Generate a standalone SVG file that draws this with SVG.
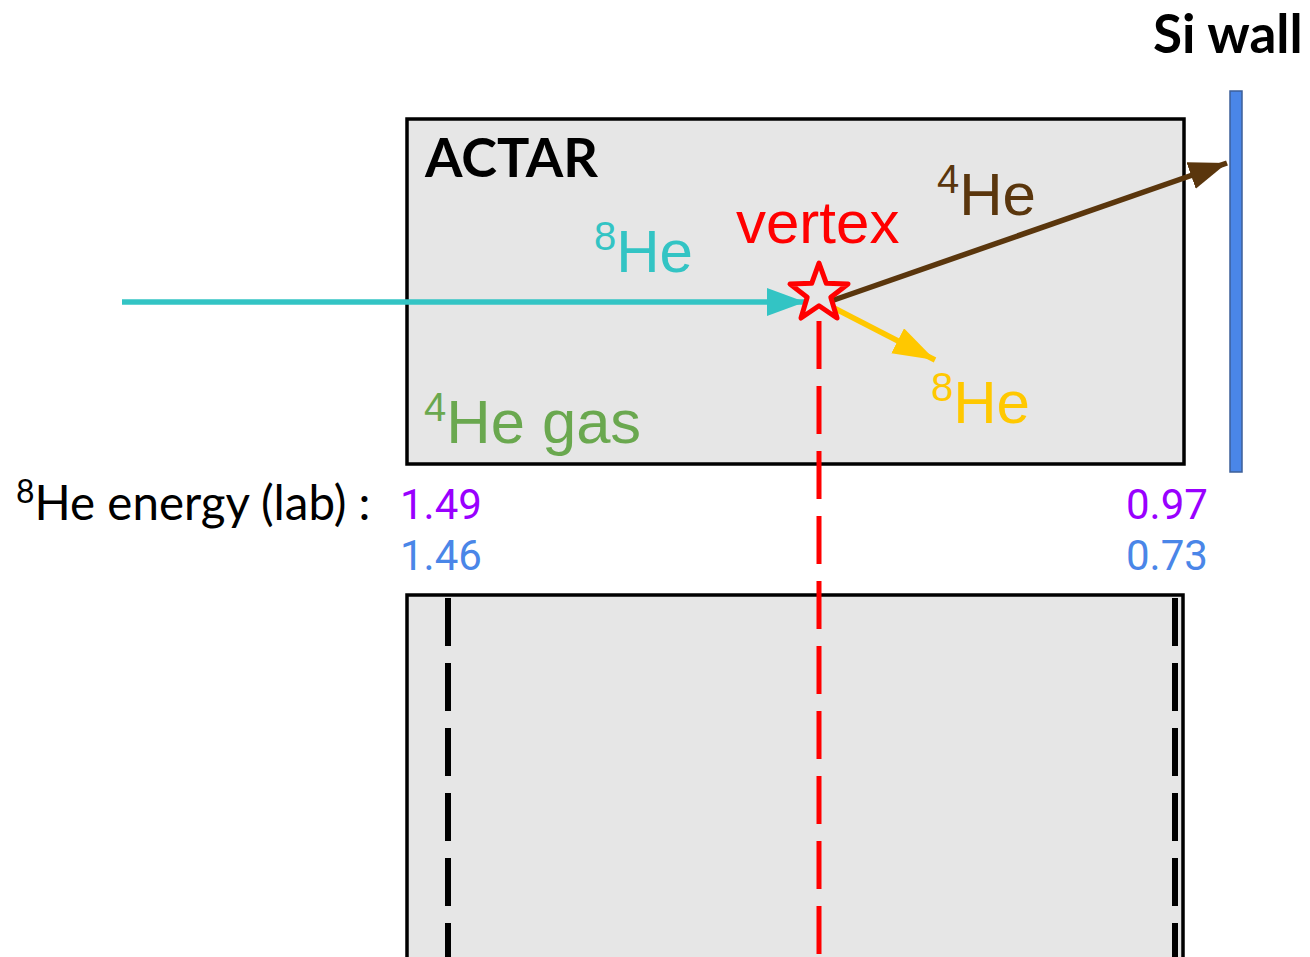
<svg xmlns="http://www.w3.org/2000/svg" width="1310" height="957" viewBox="0 0 1310 957">
<style>
.box{fill:#e6e6e6;stroke:#000;stroke-width:3.5}
.lbl{font-family:"Liberation Sans",Arial,sans-serif;font-size:60px}
.sup{font-size:40px}
.lato{font-family:Lato,"Liberation Sans",sans-serif}
.num{font-family:Roboto,"Liberation Sans",sans-serif;font-size:42px}
</style>
<defs>
<marker id="arrCyan" markerUnits="userSpaceOnUse" markerWidth="40" markerHeight="30" refX="38" refY="14" orient="auto"><path d="M0,0 L38,14 L0,28 Z" fill="#33c4c4"/></marker>
<marker id="arrBrown" markerUnits="userSpaceOnUse" markerWidth="40" markerHeight="30" refX="38" refY="14" orient="auto"><path d="M0,0 L38,14 L0,28 Z" fill="#5a360d"/></marker>
<marker id="arrYellow" markerUnits="userSpaceOnUse" markerWidth="44" markerHeight="30" refX="42" refY="14" orient="auto"><path d="M0,0 L42,14 L0,28 Z" fill="#ffc800"/></marker>
</defs>
<rect width="1310" height="957" fill="#fff"/>

<g id="actar">
<rect class="box" x="407" y="119" width="777" height="345"/>
<text class="lato" x="425" y="177" font-size="54" font-weight="bold" fill="#000">ACTAR</text>
<text class="lbl" x="424" y="443" style="font-size:61.5px" fill="#6aa84f"><tspan class="sup" dy="-22">4</tspan><tspan dy="22">He gas</tspan></text>
</g>

<g id="lower-box">
<rect class="box" x="407" y="595" width="776" height="380"/>
<line x1="448" y1="598" x2="448" y2="957" stroke="#000" stroke-width="6" stroke-dasharray="48 17"/>
<line x1="1175" y1="598" x2="1175" y2="957" stroke="#000" stroke-width="6" stroke-dasharray="48 17"/>
</g>

<g id="si-wall">
<rect x="1230" y="91" width="12" height="381" fill="#4a86e8" stroke="#3d5f99" stroke-width="1.5"/>
<text class="lato" x="1153" y="53" font-size="53" font-weight="bold" fill="#000">Si wall</text>
</g>

<g id="connectors">
<line x1="819" y1="321" x2="819" y2="957" stroke="#ff0000" stroke-width="5" stroke-dasharray="48 17"/>
<line x1="122" y1="302" x2="805" y2="302" stroke="#33c4c4" stroke-width="5.5" marker-end="url(#arrCyan)"/>
<line x1="831" y1="301" x2="1227" y2="163" stroke="#5a360d" stroke-width="5.5" marker-end="url(#arrBrown)"/>
<line x1="834" y1="308" x2="935" y2="360" stroke="#ffc800" stroke-width="5.5" marker-end="url(#arrYellow)"/>
</g>

<g id="vertex">
<polygon points="819,263 826.3,283.3 848,284 830.8,297.3 837,318 819,305.8 801,318 807.2,297.3 790,284 811.7,283.3" fill="#e6e6e6" stroke="#ff0000" stroke-width="5" stroke-linejoin="round"/>
<text class="lbl" x="736" y="243" fill="#ff0000">vertex</text>
</g>

<g id="labels">
<text class="lbl" x="594" y="272" fill="#33c4c4"><tspan class="sup" dy="-22">8</tspan><tspan dy="22">He</tspan></text>
<text class="lbl" x="937" y="215" fill="#5a360d"><tspan class="sup" dy="-22">4</tspan><tspan dy="22">He</tspan></text>
<text class="lbl" x="931" y="423" fill="#ffc800"><tspan class="sup" dy="-22">8</tspan><tspan dy="22">He</tspan></text>
</g>

<g id="energies">
<text class="lato" x="16" y="520" font-size="47.5" fill="#000"><tspan font-size="32" dy="-17">8</tspan><tspan dy="17">He energy (lab) :</tspan></text>
<text class="num" x="400" y="519" fill="#9900ff">1.49</text>
<text class="num" x="400" y="570" fill="#4a86e8">1.46</text>
<text class="num" x="1126" y="519" fill="#9900ff">0.97</text>
<text class="num" x="1126" y="570" fill="#4a86e8">0.73</text>
</g>
</svg>
